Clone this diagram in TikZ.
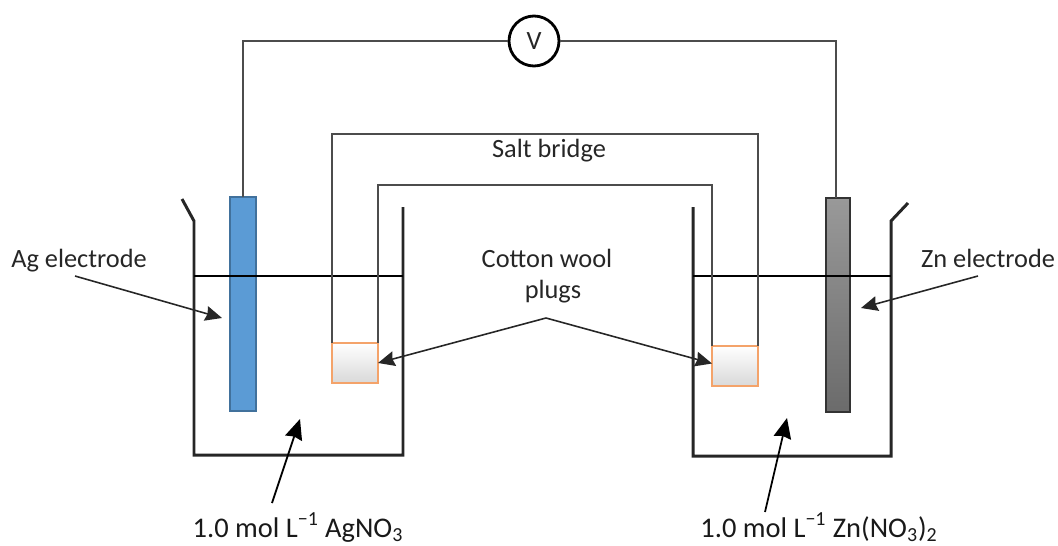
\documentclass[tikz,border=0pt]{standalone}
\usepackage{fontspec}
\setmainfont{Carlito}
\usetikzlibrary{arrows.meta}
\tikzset{
  wall/.style={line width=1.7pt,black!85},
  wire/.style={line width=1pt,black!70},
  level/.style={line width=.7pt,black},
  pointer/.style={line width=.9pt,black!85,-{Stealth[length=9.5pt,width=8.5pt,inset=1pt]}},
  bigpointer/.style={line width=1pt,black,-{Stealth[length=11.5pt,width=10pt,inset=1pt]}},
  rod/.style={draw,line width=1pt,inner sep=0pt,outer sep=0pt,minimum height=4.28cm},
  plug/.style={draw={rgb,255:red,244;green,163;blue,106},line width=1pt,top color=white,bottom color=black!15,inner sep=0pt,outer sep=0pt,minimum width=.92cm,minimum height=.8cm},
  label/.style={inner sep=0pt,anchor=base,text=black!85,font=\fontsize{15}{18}\selectfont},
  biglabel/.style={inner sep=0pt,anchor=base,text=black!90,font=\fontsize{16.2}{19}\selectfont}
}
\begin{document}
\begin{tikzpicture}[x=.02cm,y=-.02cm]
\useasboundingbox (0,0) rectangle (1058,545);
% electrodes and voltmeter
\node[rod,minimum width=.52cm,draw={rgb,255:red,65;green,113;blue,156},fill={rgb,255:red,91;green,155;blue,213}] (agrod) at (243,304) {};
\node[rod,minimum width=.48cm,draw=black!80,top color=black!40,bottom color=black!58] (znrod) at (838,305) {};
\node[draw,circle,line width=1.6pt,fill=white,inner sep=0pt,minimum size=1cm,text=black!85,font=\fontsize{15}{18}\selectfont] (volt) at (534,41) {V};
\draw[wire](agrod.north)|-(volt.west);
\draw[wire](volt.east)-|([xshift=-.04cm]znrod.north);
% beakers
\draw[wall](182,199)--(194,221)--(194,455)--(403,455)--(403,207);
\draw[wall](693,207)--(693,456)--(891,456)--(891,221)--(908,203);
\draw[level](194,276)--(403,276);
\draw[level](693,276)--(891,276);
% salt bridge
\node[plug] (plugl) at (355,363) {};
\node[plug] (plugr) at (735,366) {};
\coordinate (outertop) at (545,134);
\coordinate (innertop) at (545,185);
\draw[wire](plugl.north west)|-(outertop)-|(plugr.north east);
\draw[wire](plugl.north east)|-(innertop)-|(plugr.north west);
% labels
\node[label] (saltlabel) at (549,157) {Salt bridge};
\node[label] (agnode) at (79,267) {Ag electrode};
\node[label] (znnode) at (988,267) {Zn electrode};
\node[label] (cottonlabel) at (547,267) {Cotton wool};
\node[label] (plugslabel) at (553,298) {plugs};
\node[biglabel] (agsoln) at (298,537) {1.0 mol L\textsuperscript{−1} AgNO\textsubscript{3}};
\node[biglabel] (znsoln) at (819,537) {1.0 mol L\textsuperscript{−1} Zn(NO\textsubscript{3})\textsubscript{2}};
% pointers
\coordinate (agstart) at (75,276);
\coordinate (agtip) at (222,318);
\coordinate (znstart) at (978,276);
\coordinate (zntip) at (861,308);
\coordinate (apex) at (546,318);
\coordinate (agsolnstart) at (272,503);
\coordinate (agsolntip) at (300,419);
\coordinate (znsolnstart) at (765,512);
\coordinate (znsolntip) at (787,418);
\draw[pointer](agstart)--(agtip);
\draw[pointer](znstart)--(zntip);
\draw[pointer](apex)--(plugl.east);
\draw[pointer](apex)--([yshift=.05cm]plugr.west);
\draw[bigpointer](agsolnstart)--(agsolntip);
\draw[bigpointer](znsolnstart)--(znsolntip);
\end{tikzpicture}
\end{document}
